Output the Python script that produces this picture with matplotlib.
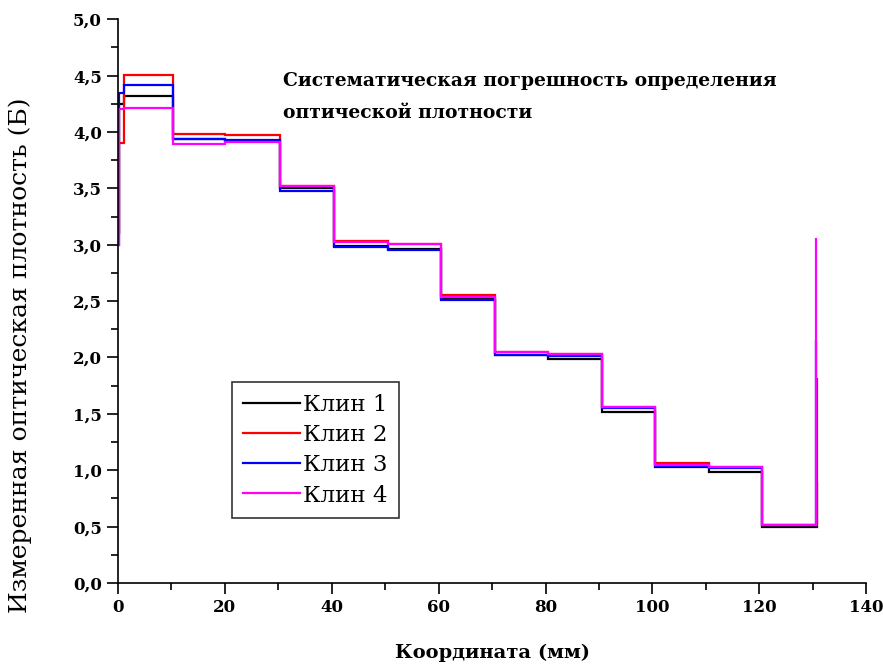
import numpy as np
import matplotlib.pyplot as plt
from matplotlib.ticker import MultipleLocator, FuncFormatter

# common step edges (mm) up to the last step
edges = [0, 0.1, 1.2, 10.3, 20.0, 30.3, 40.5, 50.5, 60.5, 70.5, 80.5,
         90.5, 100.5, 110.5, 120.5]
# end of the last step / spike position for each wedge
end_x = [130.7, 130.7, 130.65, 130.6]

labels = ['Клин 1', 'Клин 2', 'Клин 3', 'Клин 4']
colors = ['black', 'red', 'blue', 'magenta']

klin1 = [3.10, 4.25, 4.32, 3.94, 3.92, 3.50, 2.99, 2.96, 2.52, 2.02, 1.99,
         1.52, 1.03, 0.98, 0.50, 0.90]
klin2 = [3.10, 3.90, 4.51, 3.98, 3.97, 3.52, 3.03, 3.01, 2.55, 2.05, 2.03,
         1.56, 1.06, 1.03, 0.51, 1.82]
klin3 = [3.00, 4.35, 4.42, 3.94, 3.93, 3.48, 2.98, 2.95, 2.51, 2.02, 2.01,
         1.55, 1.04, 1.02, 0.51, 2.15]
klin4 = [3.00, 4.20, 4.21, 3.89, 3.91, 3.52, 3.02, 3.01, 2.54, 2.05, 2.03,
         1.56, 1.05, 1.03, 0.51, 3.05]
series = [klin1, klin2, klin3, klin4]

plt.rcParams['font.family'] = ['DejaVu Serif', 'Liberation Serif']

fig = plt.figure(figsize=(8.83, 6.64), dpi=100)
ax = fig.add_axes([0.1336, 0.122, 0.8475, 0.849])

for vals, ex, c, lab in zip(series, end_x, colors, labels):
    e = edges + [ex, ex + 0.15]
    ax.stairs(vals, e, baseline=None, color=c, lw=1.6, label=lab)

ax.set_xlim(0, 140)
ax.set_ylim(0, 5)
ax.xaxis.set_major_locator(MultipleLocator(20))
ax.xaxis.set_minor_locator(MultipleLocator(10))
ax.yaxis.set_major_locator(MultipleLocator(0.5))
ax.yaxis.set_minor_locator(MultipleLocator(0.25))
ax.yaxis.set_major_formatter(FuncFormatter(lambda v, p: f'{v:.1f}'.replace('.', ',')))
ax.tick_params(which='major', direction='out', length=8, width=1.2, labelsize=12)
ax.tick_params(which='minor', direction='out', length=5, width=1.2)
for lbl in ax.get_xticklabels() + ax.get_yticklabels():
    lbl.set_fontweight('bold')

for s in ['top', 'right']:
    ax.spines[s].set_visible(False)
for s in ['left', 'bottom']:
    ax.spines[s].set_linewidth(1.2)

ax.set_xlabel('Координата (мм)', fontsize=14, fontweight='bold', labelpad=20)
fig.text(0.023, 1 - 355 / 664, 'Измеренная оптическая плотность (Б)',
         rotation=90, fontsize=18, ha='center', va='center')

ax.text(0.221, 0.907, 'Систематическая погрешность определения\nоптической плотности',
        transform=ax.transAxes, fontsize=13.5, fontweight='bold',
        ha='left', va='top', linespacing=2.05)

leg = ax.legend(loc='upper left', bbox_to_anchor=(0.152, 0.356), borderaxespad=0,
                fontsize=16.5, frameon=True, fancybox=False, handlelength=2.5,
                handletextpad=0.1, labelspacing=0.36, borderpad=0.5)
leg.get_frame().set_edgecolor('black')
leg.get_frame().set_linewidth(1.2)

fig.savefig('out.png', dpi=100)
